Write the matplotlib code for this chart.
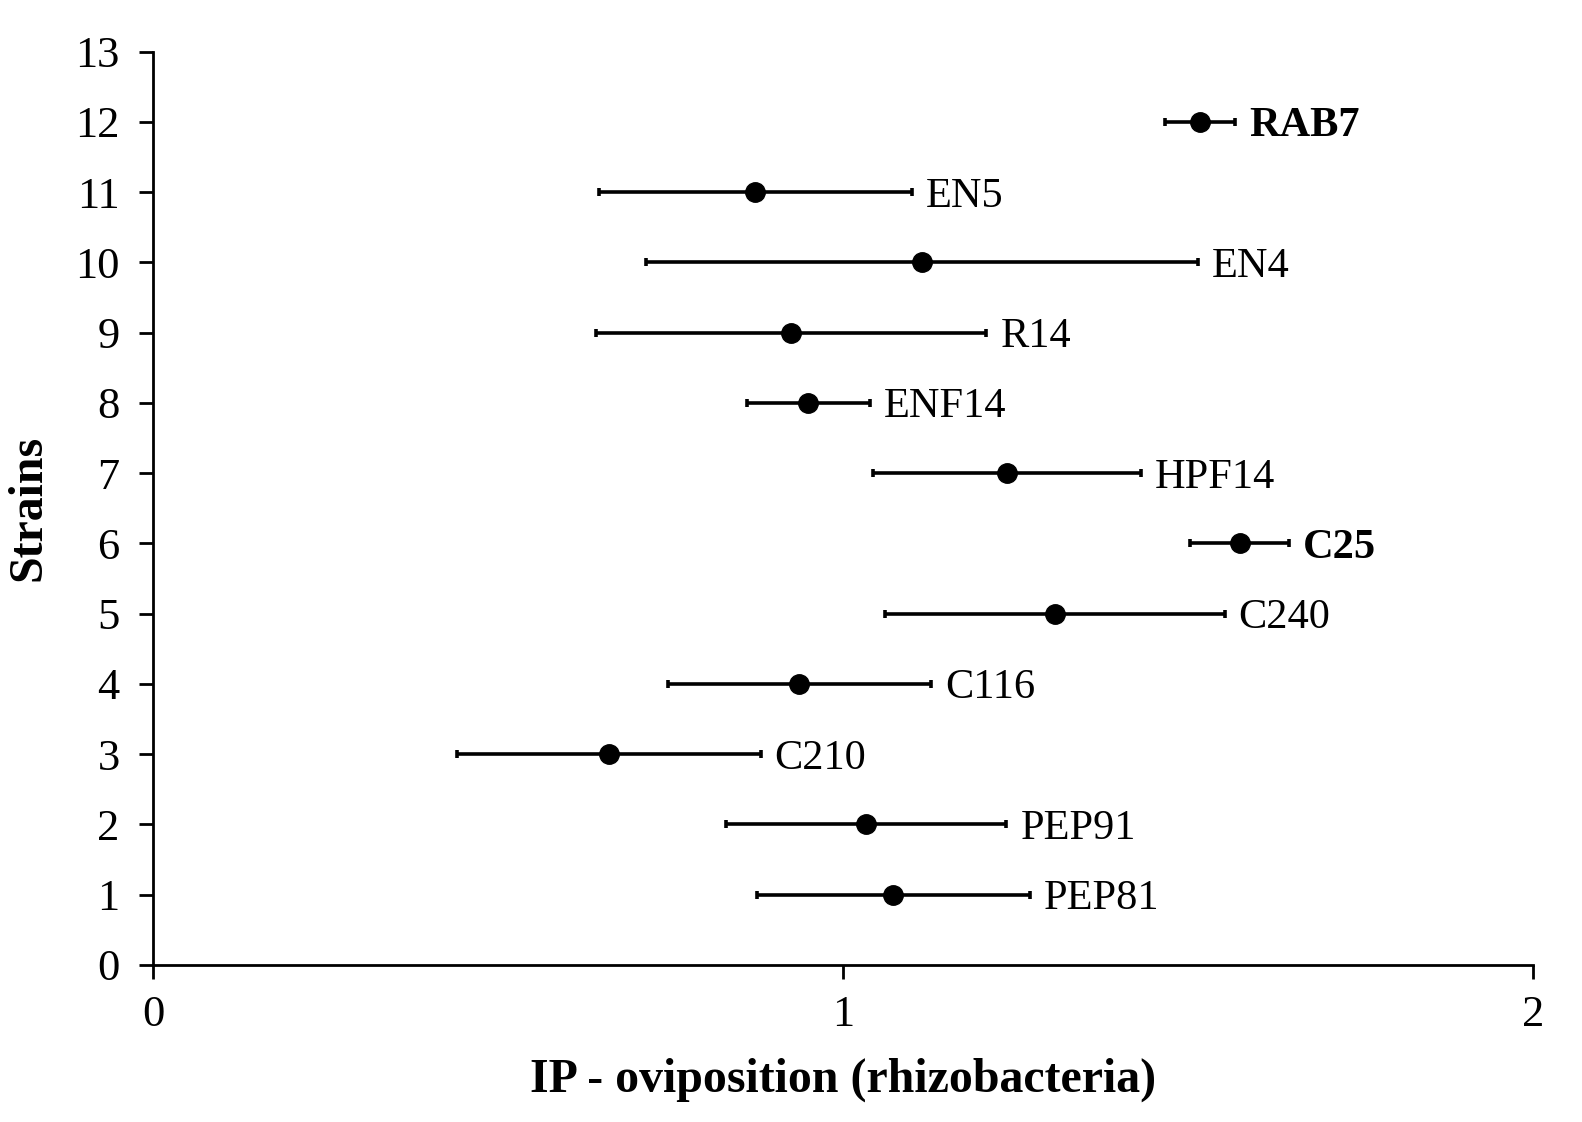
import matplotlib.pyplot as plt
from matplotlib.transforms import offset_copy

strains = ['PEP81', 'PEP91', 'C210', 'C116', 'C240', 'C25',
           'HPF14', 'ENF14', 'R14', 'EN4', 'EN5', 'RAB7']
positions = [1, 2, 3, 4, 5, 6, 7, 8, 9, 10, 11, 12]
ip_mean = [1.073, 1.034, 0.661, 0.937, 1.307, 1.575,
           1.238, 0.950, 0.925, 1.114, 0.873, 1.517]
ip_err = [0.198, 0.203, 0.220, 0.191, 0.246, 0.072,
          0.194, 0.089, 0.283, 0.400, 0.227, 0.051]
bold_strains = ['RAB7', 'C25']

plt.rcParams['font.family'] = ['Liberation Serif', 'DejaVu Serif']

fig = plt.figure(figsize=(15.82, 11.22), dpi=100)
ax = fig.add_axes([0.0967, 0.140, 0.8723, 0.814])

ax.errorbar(ip_mean, positions, xerr=ip_err, fmt='o', color='black',
            ecolor='black', elinewidth=2.6, capsize=3, capthick=2.6,
            markersize=14, markerfacecolor='black', markeredgecolor='black')

txt_tr = offset_copy(ax.transData, fig=fig, x=10, y=-3, units='points')
for m, e, y, name in zip(ip_mean, ip_err, positions, strains):
    ax.text(m + e, y, name, transform=txt_tr, va='center', ha='left',
            fontsize=30.5, fontweight='bold' if name in bold_strains else 'normal')

ax.set_xlim(0, 2)
ax.set_ylim(0, 13)
ax.set_xticks([0, 1, 2])
ax.set_yticks(range(0, 14))
ax.tick_params(axis='both', direction='out', length=10, width=2,
               labelsize=32)
ax.tick_params(axis='y', pad=14)
ax.tick_params(axis='x', pad=12)
for side in ['top', 'right']:
    ax.spines[side].set_visible(False)
for side in ['left', 'bottom']:
    ax.spines[side].set_linewidth(2)

ax.set_xlabel('IP - oviposition (rhizobacteria)', fontsize=34.5,
              fontweight='bold', labelpad=16)
ax.set_ylabel('Strains', fontsize=34.5, fontweight='bold', labelpad=18)

fig.savefig('out.png', dpi=100)
